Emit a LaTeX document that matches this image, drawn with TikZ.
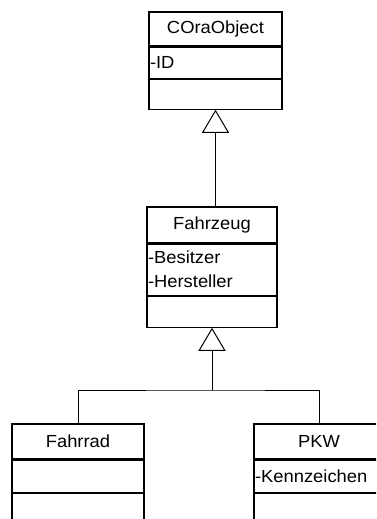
\documentclass[tikz,border=0pt]{standalone}
\usepackage{fontspec}
\setmainfont{Liberation Sans}[FakeStretch=1.05]
\usetikzlibrary{positioning,arrows.meta}
\tikzset{
  umlfont/.style={font=\fontsize{17.5}{24}\selectfont},
  classhead/.style={draw, line width=1.1pt, inner sep=0pt, umlfont, minimum width=#1},
  classpart/.style={draw, line width=1.1pt, inner xsep=1pt, inner ysep=0pt, align=left, umlfont, text width=#1},
  inherit/.style={line width=1pt, -{Triangle[open, length=23pt, width=27pt, line width=1pt]}},
}
\begin{document}
\begin{tikzpicture}[x=1pt, y=-1pt]
    \useasboundingbox (0,0) rectangle (376,519);
    \clip (0,0) rectangle (376,519);

    % Base class
    \node[classhead=133pt, minimum height=34pt] (obj) at (215.5,29) {COraObject};
    \node[classpart=131pt, minimum height=31pt, below=0pt of obj] (objattr) {-ID};
    \node[classpart=131pt, minimum height=30pt, below=0pt of objattr] (objmeth) {};

    % Vehicle
    \node[classhead=130pt, minimum height=36pt] (fzg) at (212,225) {Fahrzeug};
    \node[classpart=128pt, minimum height=51pt, below=0pt of fzg] (fzgattr) {-Besitzer\\-Hersteller};
    \node[classpart=128pt, minimum height=31pt, below=0pt of fzgattr] (fzgmeth) {};

    % Subclasses
    \node[classhead=132pt, minimum height=35pt] (rad) at (78,441.5) {Fahrrad};
    \node[classpart=130pt, minimum height=32pt, below=0pt of rad] (radattr) {};
    \node[classpart=130pt, minimum height=40pt, below=0pt of radattr] (radmeth) {};

    \node[classhead=130pt, minimum height=35pt] (pkw) at (319,441.5) {PKW};
    \node[classpart=128pt, minimum height=32pt, below=0pt of pkw] (pkwattr) {-Kennzeichen};
    \node[classpart=128pt, minimum height=40pt, below=0pt of pkwattr] (pkwmeth) {};

    % Generalisations
    \draw[inherit] (fzg.north -| objmeth.south) -- (objmeth.south);
    \coordinate (split) at (212,390);
    \draw[line width=1pt] (rad.north) |- (split) -| (pkw.north);
    \draw[inherit] (split) -- (fzgmeth.south);
\end{tikzpicture}
\end{document}
